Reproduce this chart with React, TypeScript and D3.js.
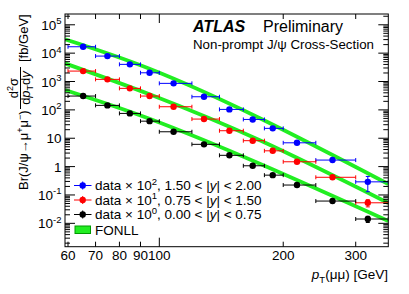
import React from "react";
import * as d3 from "d3";

// ---- data ----
const ptLow = [60, 70, 80, 90, 100, 120, 140, 160, 180, 200, 240, 300];
const ptHigh = [70, 80, 90, 100, 120, 140, 160, 180, 200, 240, 300, 360];
const ptMean = [65.3, 74.8, 84.8, 94.7, 108.3, 128.4, 148, 168.6, 188.6, 216, 263.5, 321];

// 1.50 < |y| < 2.00 (drawn x 10^2)
const xsecFwd = [168, 78.8, 40.2, 20.3, 8.6, 2.9, 1.04, 0.46, 0.223, 0.069, 0.017, 0.0029];
const errFwd = [3, 1.4, 0.7, 0.4, 0.17, 0.07, 0.03, 0.015, 0.009, 0.004, 0.0014, 0.0016];
// 0.75 < |y| < 1.50 (drawn x 10^1)
const xsecMid = [233, 119, 57.3, 30.7, 12.9, 4.74, 1.84, 0.82, 0.36, 0.148, 0.042, 0.0053];
const errMid = [3, 1.6, 0.8, 0.5, 0.2, 0.09, 0.04, 0.02, 0.012, 0.006, 0.0035, 0.0015];
// 0.00 < |y| < 0.75 (drawn x 10^0)
const xsecCen = [307, 144, 75, 40, 16.9, 6.1, 2.5, 1.07, 0.5, 0.224, 0.061, 0.0142];
const errCen = [3, 1.5, 0.8, 0.5, 0.2, 0.09, 0.045, 0.025, 0.014, 0.008, 0.004, 0.0035];

const scaleFactors = [100, 10, 1];
const seriesColors = ["#0000ff", "#ff0000", "#000000"];
const legendExp = ["2", "1", "0"];
const legendRange = [["1.50", "2.00"], ["0.75", "1.50"], ["0.00", "0.75"]];

// FONLL prediction nodes
const fonllPt = [59, 95, 176, 360];
const fonllFwd = [306, 27.4, 0.494, 0.00243];
const fonllMid = [436, 34.7, 0.828, 0.00519];
const fonllCen = [499, 47.4, 1.23, 0.0121];

const xTickVals = [60, 70, 80, 90, 100, 200, 300];
const xDomain = [59, 360];
const yDomain = [1.5e-3, 2.4e5];

const W = 409, H = 294;
const L = 65, R = 388.3, T = 14, B = 246.7;
const FONT = "'Liberation Sans', Arial, Helvetica, sans-serif";

export default function App() {
  const x = d3.scaleLog().domain(xDomain).range([L, R]);
  const y = d3.scaleLog().domain(yDomain).range([B, T]);

  const series = [
    { v: xsecFwd, e: errFwd, f: fonllFwd },
    { v: xsecMid, e: errMid, f: fonllMid },
    { v: xsecCen, e: errCen, f: fonllCen },
  ];

  const line = d3
    .line<[number, number]>()
    .x((d) => x(d[0]))
    .y((d) => y(d[1]))
    .curve(d3.curveNatural);

  // y ticks
  const yMajor: number[] = [];
  const yMinor: number[] = [];
  for (let e = -3; e <= 5; e++) {
    const b = Math.pow(10, e);
    if (b >= yDomain[0] && b <= yDomain[1]) yMajor.push(e);
    for (let k = 2; k <= 9; k++) {
      const v = k * b;
      if (v >= yDomain[0] && v <= yDomain[1]) yMinor.push(v);
    }
  }

  const capH = 2;

  return (
    <svg
      width={W}
      height={H}
      style={{ position: "absolute", left: 0, top: 0, background: "#fff" }}
      fontFamily={FONT}
    >
      <defs>
        <clipPath id="plotclip">
          <rect x={L} y={T} width={R - L} height={B - T} />
        </clipPath>
      </defs>
      <rect x={0} y={0} width={W} height={H} fill="#fff" />

      {/* FONLL bands */}
      <g clipPath="url(#plotclip)">
        {series.map((s, i) => (
          <path
            key={"f" + i}
            d={line(fonllPt.map((p, j) => [p, s.f[j] * scaleFactors[i]] as [number, number])) || ""}
            fill="none"
            stroke="#22ee22"
            strokeWidth={3.8}
          />
        ))}
      </g>

      {/* data points */}
      <g clipPath="url(#plotclip)">
        {series.map((s, i) =>
          s.v.map((v0, j) => {
            const v = v0 * scaleFactors[i];
            const er = s.e[j] * scaleFactors[i];
            const cx = x(ptMean[j]);
            const cy = y(v);
            const x0 = x(ptLow[j]);
            const x1 = x(ptHigh[j]);
            const yTop = y(v + er);
            const yBot = y(Math.max(v - er, v * 0.05));
            const c = seriesColors[i];
            return (
              <g key={"p" + i + "-" + j} stroke={c} strokeWidth={1}>
                <line x1={x0} x2={x1} y1={cy} y2={cy} />
                <line x1={x0} x2={x0} y1={cy - capH} y2={cy + capH} />
                <line x1={x1} x2={x1} y1={cy - capH} y2={cy + capH} />
                <line x1={cx} x2={cx} y1={yTop} y2={yBot} />
                <line x1={cx - capH} x2={cx + capH} y1={yTop} y2={yTop} />
                <line x1={cx - capH} x2={cx + capH} y1={yBot} y2={yBot} />
                <circle cx={cx} cy={cy} r={3.2} fill={c} stroke="none" />
              </g>
            );
          })
        )}
      </g>

      {/* frame */}
      <rect x={L} y={T} width={R - L} height={B - T} fill="none" stroke="#000" strokeWidth={1} />

      {/* y ticks */}
      <g stroke="#000" strokeWidth={1}>
        {yMajor.map((e) => {
          const yy = y(Math.pow(10, e));
          return (
            <g key={"ym" + e}>
              <line x1={L} x2={L + 10} y1={yy} y2={yy} />
              <line x1={R} x2={R - 10} y1={yy} y2={yy} />
            </g>
          );
        })}
        {yMinor.map((v, k) => {
          const yy = y(v);
          return (
            <g key={"yn" + k}>
              <line x1={L} x2={L + 5} y1={yy} y2={yy} />
              <line x1={R} x2={R - 5} y1={yy} y2={yy} />
            </g>
          );
        })}
      </g>
      <g fontSize={13.5} fill="#000">
        {yMajor.map((e) => {
          const yy = y(Math.pow(10, e)) + 5;
          if (e === 0)
            return (
              <text key={"yl" + e} x={61.5} y={yy} textAnchor="end">1</text>
            );
          if (e === 1)
            return (
              <text key={"yl" + e} x={61.5} y={yy} textAnchor="end">10</text>
            );
          return (
            <text key={"yl" + e} x={61.5} y={yy} textAnchor="end">
              10<tspan dy={-5.5} fontSize={9.5}>{e < 0 ? "-" + Math.abs(e) : String(e)}</tspan>
            </text>
          );
        })}
      </g>

      {/* x ticks */}
      <g stroke="#000" strokeWidth={1}>
        {xTickVals.map((v) => {
          const xx = x(v);
          const len = v === 100 ? 9 : 5;
          return (
            <g key={"xt" + v}>
              <line x1={xx} x2={xx} y1={B} y2={B - len} />
              <line x1={xx} x2={xx} y1={T} y2={T + len} />
            </g>
          );
        })}
      </g>
      <g fontSize={13.5} fill="#000" textAnchor="middle">
        {xTickVals.map((v) => (
          <text key={"xl" + v} x={x(v)} y={260}>{v}</text>
        ))}
      </g>

      {/* x title */}
      <text x={388} y={279} fontSize={13.5} textAnchor="end">
        <tspan fontStyle="italic">p</tspan>
        <tspan dy={3.5} fontSize={9.5}>T</tspan>
        <tspan dy={-3.5}>(μμ) [GeV]</tspan>
      </text>

      {/* y title */}
      <g transform="translate(0,190) rotate(-90)" fontSize={13} fill="#000">
        <text x={0} y={28}>
          Br(J/ψ→μ<tspan dy={-5} fontSize={9}>+</tspan>
          <tspan dy={5}>μ</tspan>
          <tspan dy={-5} fontSize={9}>−</tspan>
          <tspan dy={5}>)</tspan>
        </text>
        <text x={102} y={18} textAnchor="middle">
          d<tspan dy={-5} fontSize={9}>2</tspan>
          <tspan dy={5}>σ</tspan>
        </text>
        <line x1={81} x2={123} y1={20.5} y2={20.5} stroke="#000" strokeWidth={1} />
        <text x={102} y={30} textAnchor="middle">
          d<tspan fontStyle="italic">p</tspan>
          <tspan dy={3} fontSize={9}>T</tspan>
          <tspan dy={-3}>d</tspan>
          <tspan fontStyle="italic">y</tspan>
        </text>
        <text x={128} y={28}>[fb/GeV]</text>
      </g>

      {/* ATLAS label */}
      <text x={193} y={32.3} fontSize={16} fontWeight="bold" fontStyle="italic">ATLAS</text>
      <text x={263} y={32.3} fontSize={16}>Preliminary</text>
      <text x={193} y={49.3} fontSize={13.3}>Non-prompt J/ψ Cross-Section</text>

      {/* legend */}
      <g>
        {[0, 1, 2].map((i) => {
          const cy = 185.5 + i * 14.5;
          const c = seriesColors[i];
          return (
            <g key={"lg" + i}>
              <g stroke={c} strokeWidth={1}>
                <line x1={74} x2={91.5} y1={cy} y2={cy} />
                <line x1={82.7} x2={82.7} y1={cy - 4} y2={cy + 4} />
              </g>
              <circle cx={82.7} cy={cy} r={3.2} fill={c} />
              <text x={95} y={cy + 4.8} fontSize={13.5}>
                data × 10<tspan dy={-5.5} fontSize={9.5}>{legendExp[i]}</tspan>
                <tspan dy={5.5}>, {legendRange[i][0]} &lt; |</tspan>
                <tspan fontStyle="italic">y</tspan>
                <tspan>| &lt; {legendRange[i][1]}</tspan>
              </text>
            </g>
          );
        })}
        <rect x={75} y={226} width={15.5} height={7.5} fill="#22ee22" stroke="#009900" strokeWidth={1} />
        <text x={95} y={234.5} fontSize={13.5}>FONLL</text>
      </g>
    </svg>
  );
}
